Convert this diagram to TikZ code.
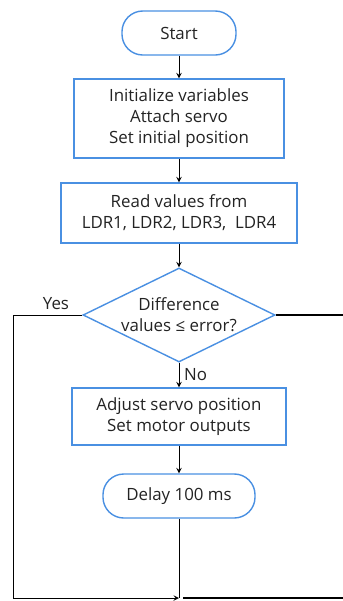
\documentclass[tikz,border=0pt]{standalone}
\usepackage{fontspec}
\setmainfont{Open Sans}
\usetikzlibrary{shapes.geometric}

\definecolor{flowblue}{RGB}{74,144,226}
\definecolor{flowtext}{RGB}{35,35,35}

\tikzset{
    base/.style={draw=flowblue, line width=1pt, align=center, text=flowtext,
        font=\fontsize{12}{15}\selectfont, inner sep=2pt},
    term/.style={base, rounded corners=0.52cm},
    proc/.style={base, rectangle},
    decision/.style={base, diamond, shape aspect=2, inner sep=0pt},
    flow/.style={line width=0.7pt, >=stealth},
    lbl/.style={text=flowtext, font=\fontsize{12}{15}\selectfont},
}

\begin{document}
\begin{tikzpicture}[x=0.025cm, y=-0.025cm]
        % Cornice del disegno
        \useasboundingbox (0,0) rectangle (343,601);
        \clip (0,0) rectangle (343,601);

        % Blocchi
        \node[term, minimum width=2.85cm, minimum height=1.1cm] (start) at (179,33) {Start};
        \node[proc, minimum width=5.25cm, minimum height=1.975cm] (init) at (179,118.5)
            {Initialize variables\\Attach servo\\Set initial position};
        \node[proc, minimum width=5.9cm, minimum height=1.5cm] (read) at (179,213)
            {Read values from\\LDR1, LDR2, LDR3,\ \ LDR4};
        \node[decision, minimum width=4.8cm, minimum height=2.35cm] (diff) at (179,315)
            {Difference\\values ≤ error?};
        \node[proc, minimum width=5.35cm, minimum height=1.425cm] (adjust) at (179,416.5)
            {Adjust servo position\\Set motor outputs};
        \node[term, minimum width=3.8cm, minimum height=1.1cm] (delay) at (179,496) {Delay 100 ms};

        % Punti di ritorno
        \coordinate (merge) at (179,598);
        \coordinate (yescorner) at (13,598);
        \coordinate (rightout) at (350,315);
        \coordinate (rightin) at (350,598);

        % Frecce
        \draw[flow,->] (start) -- (init);
        \draw[flow,->] (init) -- (read);
        \draw[flow,->] (read) -- (diff);
        \draw[flow,->] (diff) -- node[right, lbl] {No} (adjust);
        \draw[flow,->] (adjust) -- (delay);
        \draw[flow] (delay) -- (merge);

        % Ramo Yes a sinistra
        \draw[flow,->] (diff.west) -| node[pos=0.19, above, lbl] {Yes}
            (yescorner) -- (merge);

        % Ramo a destra (esce dal disegno)
        \draw[line width=1.6pt] (diff.east) -- (rightout);
        \draw[line width=1.6pt, shorten >=3] (rightin) -- (merge);
\end{tikzpicture}
\end{document}
